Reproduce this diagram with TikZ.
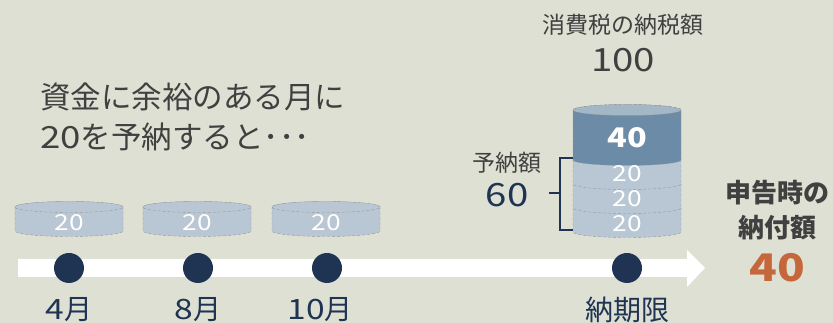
\documentclass[tikz,border=0pt]{standalone}
\usepackage{fontspec}
\setmainfont{Noto Sans CJK JP}
\newfontfamily\numfont{Noto Sans CJK JP}[FakeStretch=1.2]
\usetikzlibrary{positioning}

\definecolor{bgpaper}{HTML}{DDE0D2}
\definecolor{inkgrey}{HTML}{404040}
\definecolor{navy}{HTML}{1F3352}
\definecolor{rust}{HTML}{C5673A}
\definecolor{coinlight}{HTML}{B8C7D3}
\definecolor{coindark}{HTML}{6B8BA6}
\definecolor{cointop}{HTML}{A4B7C7}

% coin body: centre x, bottom y, height, fill
\newcommand{\coinbody}[4]{%
  \filldraw[coinline,fill=#4] (#1-54,#2+#3) -- (#1-54,#2)
    arc[start angle=180,end angle=360,x radius=54,y radius=5.5]
    -- (#1+54,#2+#3)
    arc[start angle=0,end angle=180,x radius=54,y radius=5.5] -- cycle;}
% coin face: centre x, y, fill
\newcommand{\coinface}[3]{%
  \filldraw[coinline,fill=#3] (#1,#2) ellipse[x radius=54,y radius=5.5];}

\tikzset{
  coinline/.style={draw=gray!80,densely dashed,line width=0.4pt},
  coinnum/.style={text=white,font=\fontsize{22}{22}\selectfont\numfont,inner sep=0pt},
  tick/.style={circle,fill=navy,minimum size=30,inner sep=0pt},
  month/.style={text=navy,font=\fontsize{28}{28}\selectfont,inner sep=0pt},
  caption/.style={text=inkgrey,inner sep=0pt}
}

\begin{document}
\begin{tikzpicture}[x=1pt,y=1pt]
  \useasboundingbox (0,0) rectangle (833,323);
  \fill[bgpaper] (0,0) rectangle (833,323);

  % time line
  \fill[white] (18,46) -- (687,46) -- (687,36) -- (705,55)
    -- (687,73) -- (687,64) -- (18,64) -- cycle;

  \node[tick] (d4) at (69,55) {};
  \node[tick] (d8) at (198,55) {};
  \node[tick] (d10) at (327,55) {};
  \node[tick] (dlim) at (627,55) {};

  \node[month] (m4) at (69,13) {{\numfont 4}月};
  \node[month] (m8) at (198,13) {{\numfont 8}月};
  \node[month] (m10) at (320,13) {{\numfont 10}月};
  \node[month] (mlim) at (627,13) {納期限};

  % monthly prepayments
  \coinbody{69}{92}{24}{coinlight}
  \coinface{69}{116}{coinlight}
  \coinbody{197}{92}{24}{coinlight}
  \coinface{197}{116}{coinlight}
  \coinbody{326}{92}{24}{coinlight}
  \coinface{326}{116}{coinlight}
  \node[coinnum] (c4) at (69,100) {20};
  \node[coinnum] (c8) at (197,100) {20};
  \node[coinnum] (c10) at (326,100) {20};

  % stack at the due date
  \coinbody{627}{91}{24}{coinlight}
  \coinbody{627}{115}{24}{coinlight}
  \coinbody{627}{139}{24}{coinlight}
  \coinbody{627}{163}{50}{coindark}
  \coinface{627}{213}{cointop}
  \node[coinnum] (s1) at (627,99) {20};
  \node[coinnum] (s2) at (627,124) {20};
  \node[coinnum] (s3) at (627,149) {20};
  \node[coinnum,font=\fontsize{27}{27}\selectfont\bfseries\numfont] (s40) at (627,185) {40};

  % bracket for the prepaid part
  \draw[navy,line width=2] (573,165) -- (560,165) -- (560,93) -- (573,93);
  \draw[navy,line width=2] (560,130) -- (549,130);
  \node[caption,font=\fontsize{23}{23}\selectfont] (pre) at (507,160) {予納額};
  \node[caption,text=navy,font=\fontsize{32}{32}\selectfont\numfont] (pre60) at (507,128) {60};

  % total tax
  \node[caption,font=\fontsize{23}{23}\selectfont] (tax) at (623,298) {消費税の納税額};
  \node[caption,font=\fontsize{32}{32}\selectfont\numfont] (tax100) at (623,263) {100};

  % amount at filing
  \node[caption,font=\fontsize{26}{26}\selectfont\bfseries] (pay1) at (777,130) {申告時の};
  \node[caption,font=\fontsize{26}{26}\selectfont\bfseries] (pay2) at (777,95) {納付額};
  \node[caption,text=rust,font=\fontsize{38}{38}\selectfont\bfseries\numfont] (pay40) at (777,55) {40};

  % lead text
  \node[caption,anchor=west,align=left,font=\fontsize{30.5}{40}\selectfont] (lead) at (40,206)
    {資金に余裕のある月に\\{\numfont 20}を予納すると･･･};
\end{tikzpicture}
\end{document}
